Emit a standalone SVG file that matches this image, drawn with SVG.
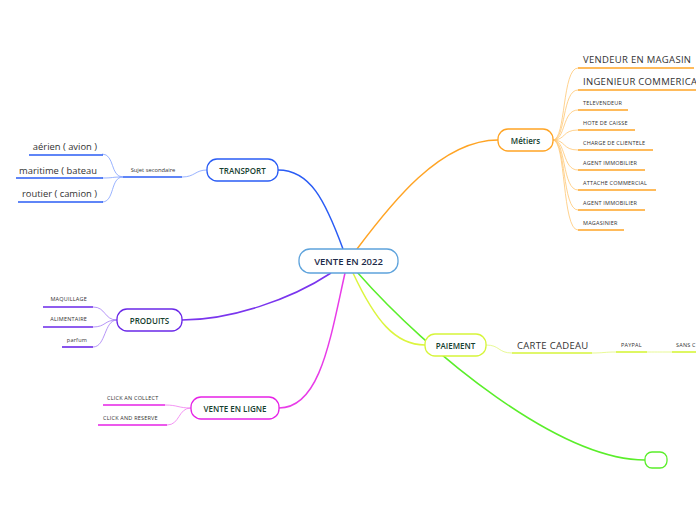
<svg xmlns="http://www.w3.org/2000/svg" width="696" height="520" viewBox="0 0 696 520">
<style>
.node{fill:#fff;stroke-width:1.3}
.nt{font-family:"Open Sans","Noto Sans",sans-serif;font-size:8px;fill:#16402f;text-anchor:middle;dominant-baseline:central;font-weight:600}
.lt{font-family:"Open Sans","Noto Sans",sans-serif;fill:#333;dominant-baseline:central}
.big{font-size:9.5px;letter-spacing:0.3px}
.sm{font-size:5.5px;letter-spacing:0.2px}
.c{fill:none;stroke-width:1.5}
.lc{fill:none;stroke-width:0.8}
.ul{stroke-width:1.6}
</style>
<rect width="696" height="520" fill="#fff"/>
<g id="connectors">
<path class="c" stroke="#2a5cf5" d="M343 249 C325 200 310 170 278 170"/>
<path class="c" stroke="#ffa424" d="M357 249 C390 205 440 140 498 140"/>
<path class="c" stroke="#7a35ee" d="M331 273 C290 300 230 320 182 320"/>
<path class="c" stroke="#e83ce8" d="M345 273 C330 340 320 408 279 408"/>
<path class="c" stroke="#dcf53e" d="M353 273 C375 320 395 345 425 345"/>
<path class="c" stroke="#5aee2a" d="M357 272 C430 355 560 460 645 460"/>
<path class="lc" stroke="#7fa0ff" d="M207 170 C195 170 195 177 182 177"/>
<path class="lc" stroke="#7fa0ff" d="M123 177 C110 177 115 154 102 154"/>
<path class="lc" stroke="#7fa0ff" d="M123 177 C110 177 115 178 102 178"/>
<path class="lc" stroke="#7fa0ff" d="M123 177 C110 177 115 202 102 202"/>
<line class="ul" stroke="#2a5cf5" x1="123" y1="177" x2="182" y2="177"/>
<line class="ul" stroke="#2a5cf5" x1="29" y1="155" x2="103" y2="155"/>
<line class="ul" stroke="#2a5cf5" x1="16" y1="178" x2="103" y2="178"/>
<line class="ul" stroke="#2a5cf5" x1="18" y1="202" x2="103" y2="202"/>
<g stroke="#ffc772">
<path class="lc" d="M553 140 C566 140 562 68 578 68"/>
<path class="lc" d="M553 140 C566 140 562 90 578 90"/>
<path class="lc" d="M553 140 C566 140 562 110 578 110"/>
<path class="lc" d="M553 140 C566 140 562 130 578 130"/>
<path class="lc" d="M553 140 C566 140 562 150 578 150"/>
<path class="lc" d="M553 140 C566 140 562 170 578 170"/>
<path class="lc" d="M553 140 C566 140 562 190 578 190"/>
<path class="lc" d="M553 140 C566 140 562 210 578 210"/>
<path class="lc" d="M553 140 C566 140 562 230 578 230"/>
</g>
<g stroke="#ffa424" class="ul">
<line x1="578" y1="68" x2="694" y2="68"/>
<line x1="578" y1="90" x2="696" y2="90"/>
<line x1="578" y1="110" x2="628" y2="110"/>
<line x1="578" y1="130" x2="635" y2="130"/>
<line x1="578" y1="150" x2="653" y2="150"/>
<line x1="578" y1="170" x2="645" y2="170"/>
<line x1="578" y1="190" x2="656" y2="190"/>
<line x1="578" y1="210" x2="645" y2="210"/>
<line x1="578" y1="230" x2="624" y2="230"/>
</g>
<g stroke="#a37af5">
<path class="lc" d="M117 320 C104 320 106 307 93 307"/>
<path class="lc" d="M117 320 C104 320 106 327 93 327"/>
<path class="lc" d="M117 320 C104 320 106 347 93 347"/>
</g>
<g stroke="#6a28e8" class="ul">
<line x1="43" y1="307" x2="93" y2="307"/>
<line x1="43" y1="327" x2="93" y2="327"/>
<line x1="62" y1="347" x2="93" y2="347"/>
</g>
<g stroke="#f07af0">
<path class="lc" d="M191 408 C178 408 178 405 165 405"/>
<path class="lc" d="M191 408 C178 408 180 425 167 425"/>
</g>
<g stroke="#e622e6" class="ul">
<line x1="103" y1="405" x2="165" y2="405"/>
<line x1="98" y1="425" x2="167" y2="425"/>
</g>
<g stroke="#e2f77a">
<path class="lc" d="M486 345 C500 345 498 353 512 353"/>
<path class="lc" d="M592 353 C604 353 604 352 616 352"/>
<path class="lc" d="M647 352 C660 352 660 352 672 352"/>
</g>
<g stroke="#d6f53a" class="ul">
<line x1="512" y1="353" x2="592" y2="353"/>
<line x1="616" y1="352" x2="647" y2="352"/>
<line x1="672" y1="352" x2="696" y2="352"/>
</g>
</g>
<g id="center">
<rect class="node" x="299" y="249" width="99" height="24" rx="11" stroke="#5ea3dc"/>
<text class="nt" x="348.5" y="261" style="font-size:9.5px;fill:#1c2a48">VENTE EN 2022</text>
</g>
<g id="transport">
<rect class="node" x="207" y="159" width="71" height="22" rx="10" stroke="#2a5cf5"/>
<text class="nt" x="242.5" y="170">TRANSPORT</text>
</g>
<g id="sujet">
<text class="lt" x="153" y="170" style="font-size:5.8px;text-anchor:middle">Sujet secondaire</text>
</g>
<g id="transport-leaves">
<text class="lt" x="97" y="146" style="font-size:9.4px;text-anchor:end">aérien ( avion )</text>
<text class="lt" x="97" y="170" style="font-size:9.4px;text-anchor:end">maritime ( bateau</text>
<text class="lt" x="97" y="193" style="font-size:9.4px;text-anchor:end">routier ( camion )</text>
</g>
<g id="metiers">
<rect class="node" x="498" y="129" width="55" height="22" rx="10" stroke="#ffa424"/>
<text class="nt" x="525.5" y="140">Métiers</text>
</g>
<g id="metiers-leaves">
<text class="lt big" x="583" y="59">VENDEUR EN MAGASIN</text>
<text class="lt big" x="583" y="81">INGENIEUR COMMERICA</text>
<text class="lt sm" x="583" y="103">TELEVENDEUR</text>
<text class="lt sm" x="583" y="123">HOTE DE CAISSE</text>
<text class="lt sm" x="583" y="143">CHARGE DE CLIENTELE</text>
<text class="lt sm" x="583" y="163">AGENT IMMOBILIER</text>
<text class="lt sm" x="583" y="183">ATTACHE COMMERCIAL</text>
<text class="lt sm" x="583" y="203">AGENT IMMOBILIER</text>
<text class="lt sm" x="583" y="223">MAGASINIER</text>
</g>
<g id="produits">
<rect class="node" x="117" y="309" width="65" height="22" rx="10" stroke="#6a28e8"/>
<text class="nt" x="149.5" y="320">PRODUITS</text>
</g>
<g id="produits-leaves">
<text class="lt sm" x="87" y="299" style="text-anchor:end">MAQUILLAGE</text>
<text class="lt sm" x="87" y="319" style="text-anchor:end">ALIMENTAIRE</text>
<text class="lt sm" x="87" y="340" style="text-anchor:end">parfum</text>
</g>
<g id="vente-en-ligne">
<rect class="node" x="191" y="397" width="88" height="22" rx="10" stroke="#e622e6"/>
<text class="nt" x="235" y="408">VENTE EN LIGNE</text>
</g>
<g id="vel-leaves">
<text class="lt sm" x="107" y="398">CLICK AN COLLECT</text>
<text class="lt sm" x="103" y="418">CLICK AND RESERVE</text>
</g>
<g id="paiement">
<rect class="node" x="425" y="334" width="61" height="22" rx="10" stroke="#d6f53a"/>
<text class="nt" x="455.5" y="345">PAIEMENT</text>
</g>
<g id="paiement-leaves">
<text class="lt big" x="517" y="345">CARTE CADEAU</text>
<text class="lt sm" x="621" y="345">PAYPAL</text>
<text class="lt sm" x="676" y="345">SANS C</text>
</g>
<g id="green-node">
<rect class="node" x="645" y="452" width="22" height="16" rx="7" stroke="#5aee2a"/>
</g>
</svg>
